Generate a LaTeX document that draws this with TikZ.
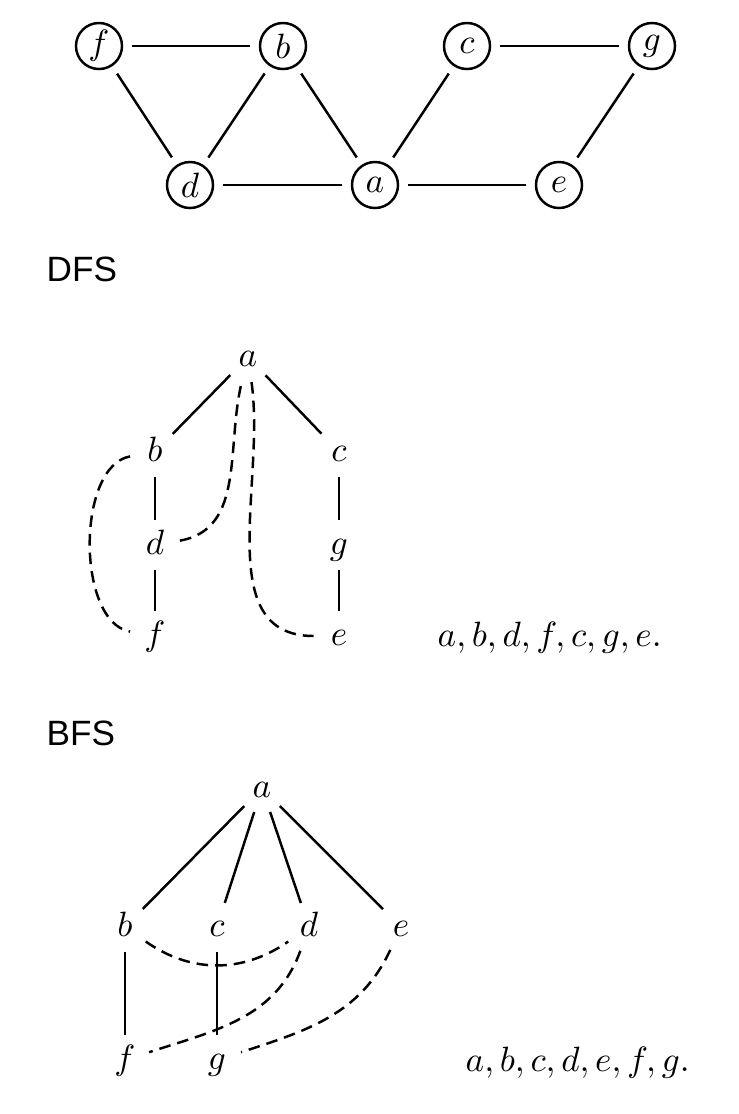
\documentclass[tikz,border=0pt]{standalone}
\usepackage{fontspec}
\newfontfamily\labelfont{Liberation Sans}
\usetikzlibrary{positioning,calc}

\begin{document}
\begin{tikzpicture}[
x=0.01cm, y=-0.01cm,
vertex/.style={draw, circle, line width=0.7pt, minimum size=0.46cm, inner sep=0pt},
treenode/.style={circle, minimum size=14pt, inner sep=0pt, text height=1.5ex, text depth=0.25ex},
edge/.style={line width=0.7pt},
backedge/.style={line width=0.7pt, dash pattern=on 3.3pt off 2pt}
]
\useasboundingbox (0,0) rectangle (738,1114);

% ================= GRAPH =================
\node[vertex] (f) at (99,46) {$f$};
\node[vertex] (b) at (283,46) {$b$};
\node[vertex] (c) at (467,46) {$c$};
\node[vertex] (g) at (652,46) {$g$};
\node[vertex] (d) at (190,185) {$d$};
\node[vertex] (a) at (375,185) {$a$};
\node[vertex] (e) at (559,185) {$e$};

\begin{scope}[edge, shorten >=2.5pt, shorten <=2.5pt]
\draw (f) -- (b);
\draw (c) -- (g);
\draw (d) -- (a);
\draw (a) -- (e);
\draw (f) -- (d);
\draw (b) -- (d);
\draw (b) -- (a);
\draw (c) -- (a);
\draw (g) -- (e);
\end{scope}

% ================= DFS =================
\node[anchor=west, inner sep=0pt, font=\labelfont] (dfslabel) at (46,269) {DFS};

\node[treenode] (da) at (248,357) {$a$};
\node[treenode] (db) at (155,452) {$b$};
\node[treenode] (dc) at (339,452) {$c$};
\node[treenode] (dd) at (155,545) {$d$};
\node[treenode] (dg) at (339,545) {$g$};
\node[treenode] (df) at (155,636) {$f$};
\node[treenode] (de) at (339,636) {$e$};

\draw[edge] (da) -- (db);
\draw[edge] (da) -- (dc);
\draw[edge] (db) -- (dd);
\draw[edge] (dd) -- (df);
\draw[edge] (dc) -- (dg);
\draw[edge] (dg) -- (de);

\draw[backedge] (db) to[out=190, in=170, looseness=0.8] (df);
\draw[backedge] (dd) to[out=10, in=-104] (da);
\draw[backedge] (da) to[out=-82, in=180] (de);

\node[anchor=base west, inner sep=0pt] (dfsorder) at (437,646) {$a, b, d, f, c, g, e.$};

% ================= BFS =================
\node[anchor=west, inner sep=0pt, font=\labelfont] (bfslabel) at (46,733) {BFS};

\node[treenode] (ba) at (262,788) {$a$};
\node[treenode] (bb) at (125,927) {$b$};
\node[treenode] (bc) at (217,927) {$c$};
\node[treenode] (bd) at (309,927) {$d$};
\node[treenode] (be) at (401,927) {$e$};
\node[treenode] (bf) at (125,1060) {$f$};
\node[treenode] (bg) at (217,1060) {$g$};

\draw[edge] (ba) -- (bb);
\draw[edge] (ba) -- (bc);
\draw[edge] (ba) -- (bd);
\draw[edge] (ba) -- (be);
\draw[edge] (bb) -- (bf);
\draw[edge] (bc) -- (bg);

\draw[backedge] (bb) to[bend right=35] (bd);
\draw[backedge] (bd) to[out=-110, in=18] (bf);
\draw[backedge] (be) to[out=-115, in=18] (bg);

\node[anchor=base west, inner sep=0pt] (bfsorder) at (465,1071) {$a, b, c, d, e, f, g.$};

\end{tikzpicture}
\end{document}
